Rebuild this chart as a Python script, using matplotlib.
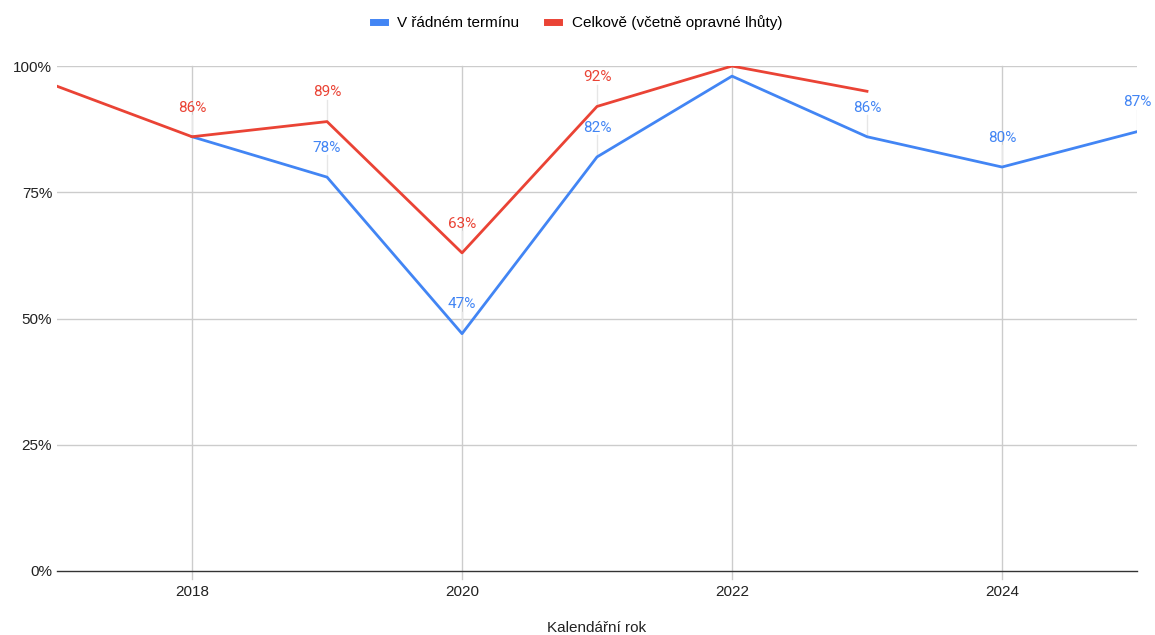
import numpy as np
import matplotlib
matplotlib.use('Agg')
import matplotlib.pyplot as plt

plt.rcParams['font.family'] = ['Liberation Sans', 'DejaVu Sans']

years = [2017, 2018, 2019, 2020, 2021, 2022, 2023, 2024, 2025]
radny = [np.nan, 86, 78, 47, 82, 98, 86, 80, 87]
celkove = [96, 86, 89, 63, 92, 100, 95, np.nan, np.nan]

# which points carry a value label
radny_labels = [2019, 2020, 2021, 2023, 2024, 2025]
celkove_labels = [2018, 2019, 2020, 2021]

blue = '#4285F4'
red = '#EA4335'

fig = plt.figure(figsize=(11.55, 6.35), dpi=100)
ax = fig.add_axes([0.0494, 0.1008, 0.9350, 0.7952])

for y in [25, 50, 75, 100]:
    ax.axhline(y, color='#cccccc', lw=1, zorder=0)
ax.axhline(0, color='#333333', lw=1, zorder=1, clip_on=False)
for x in [2018, 2020, 2022, 2024]:
    ax.plot([x, x], [-1.5, 100], color='#cccccc', lw=1, zorder=0, clip_on=False)

ax.plot(years, radny, color=blue, lw=2, label='V řádném termínu', zorder=3)
ax.plot(years, celkove, color=red, lw=2, label='Celkově (včetně opravné lhůty)', zorder=3)

def labels(vals, which, color):
    for x, v in zip(years, vals):
        if x in which:
            ax.plot([x, x], [v, v + 4.3], color='#e6e6e6', lw=1, zorder=1)
            ax.text(x, v + 4.4, f'{v:.0f}%', color=color, ha='center', va='bottom',
                    fontsize=11, family=['Roboto', 'DejaVu Sans'], zorder=4)

labels(radny, radny_labels, blue)
labels(celkove, celkove_labels, red)

ax.set_xlim(2017, 2025)
ax.set_ylim(0, 100)
ax.set_yticks([0, 25, 50, 75, 100])
ax.set_yticklabels(['0%', '25%', '50%', '75%', '100%'])
ax.set_xticks([2018, 2020, 2022, 2024])
ax.tick_params(length=0, labelsize=11, colors='#222222')
ax.tick_params(axis='x', pad=10)
for s in ax.spines.values():
    s.set_visible(False)
ax.set_xlabel('Kalendářní rok', fontsize=11, labelpad=16, color='#222222')

fig.legend(loc='center', bbox_to_anchor=(0.5, 0.965), ncol=2, frameon=False,
           fontsize=11, handlelength=0.8, handleheight=0.4, columnspacing=1.8,
           handletextpad=0.8)
for h in fig.legends[0].get_lines():
    h.set_linewidth(5)

fig.savefig('out.png', dpi=100)
